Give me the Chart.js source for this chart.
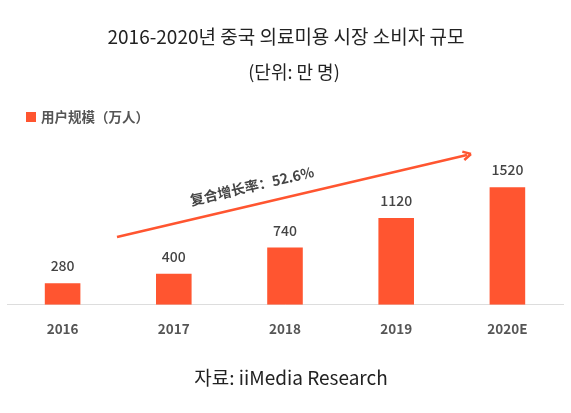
<!DOCTYPE html>
<html><head><meta charset="utf-8">
<script src="https://cdn.jsdelivr.net/npm/chart.js@4"></script>
<style>html,body{margin:0;padding:0;background:#fff}#wrap{width:571px;height:413px}</style>
</head><body><div id="wrap"><canvas id="c" width="571" height="413"></canvas></div>
<script>
const categories = ["2016","2017","2018","2019","2020E"];
const users = [280, 400, 740, 1120, 1520];
const seriesLabel = "用户规模（万人）";
const titleText = "2016-2020년 중국 의료미용 시장 소비자 규모";
const subtitleText = "(단위: 만 명)";
const sourceText = "자료: iiMedia Research";
const cagrText = "复合增长率：52.6%";
const barColor = "#FF5530";

const overlay = {
  id: "overlay",
  afterDraw(chart) {
    const ctx = chart.ctx;
    ctx.save();
    ctx.textAlign = "center";
    ctx.textBaseline = "middle";
    ctx.fillStyle = "#222";
    ctx.font = "19px 'Noto Sans CJK KR'";
    ctx.fillText(titleText, 286, 37);
    ctx.font = "18px 'Noto Sans CJK KR'";
    ctx.fillText(subtitleText, 294, 72);
    ctx.font = "19px 'Noto Sans CJK KR'";
    ctx.fillText(sourceText, 291, 378);
    // legend
    ctx.fillStyle = barColor;
    ctx.fillRect(26, 112, 10, 10);
    ctx.fillStyle = "#555";
    ctx.textAlign = "left";
    ctx.font = "bold 13.5px 'Noto Sans CJK SC'";
    ctx.fillText(chart.data.datasets[0].label, 41, 117);
    // data labels
    ctx.textAlign = "center";
    ctx.font = "500 14px 'Noto Sans CJK SC'";
    ctx.fillStyle = "#444";
    const meta = chart.getDatasetMeta(0);
    meta.data.forEach((bar, i) => {
      ctx.fillText(String(chart.data.datasets[0].data[i]), bar.x, bar.y - 17);
    });
    // arrow
    const x0 = 117, y0 = 237, x1 = 471, y1 = 154;
    ctx.strokeStyle = barColor;
    ctx.lineWidth = 2.5;
    ctx.beginPath(); ctx.moveTo(x0, y0); ctx.lineTo(x1 - 4, y1 + 1); ctx.stroke();
    const ang = Math.atan2(y1 - y0, x1 - x0);
    ctx.beginPath();
    ctx.moveTo(x1, y1);
    ctx.lineTo(x1 - 9 * Math.cos(ang - 0.5), y1 - 9 * Math.sin(ang - 0.5));
    ctx.moveTo(x1, y1);
    ctx.lineTo(x1 - 9 * Math.cos(ang + 0.5), y1 - 9 * Math.sin(ang + 0.5));
    ctx.stroke();
    ctx.translate(252, 186);
    ctx.rotate(ang);
    ctx.fillStyle = "#444";
    ctx.font = "bold 14px 'Noto Sans CJK SC'";
    ctx.fillText(cagrText, 0, 0);
    ctx.restore();
  }
};

new Chart(document.getElementById("c"), {
  type: "bar",
  data: {
    labels: categories,
    datasets: [{ label: seriesLabel, data: users, backgroundColor: barColor, categoryPercentage: 1, barPercentage: 0.32 }]
  },
  options: {
    responsive: false,
    animation: false,
    layout: { padding: { top: 150, left: 7, right: 8, bottom: 68 } },
    plugins: { legend: { display: false }, title: { display: false }, tooltip: { enabled: false } },
    scales: {
      x: {
        grid: { display: false },
        border: { display: true, color: "#ddd", width: 1 },
        ticks: { color: "#555", font: { family: "'Noto Sans CJK SC'", size: 13.5, weight: "bold" }, padding: 8 }
      },
      y: { display: false, min: 0, max: 2000 }
    }
  },
  plugins: [overlay]
});
</script>
</body></html>
